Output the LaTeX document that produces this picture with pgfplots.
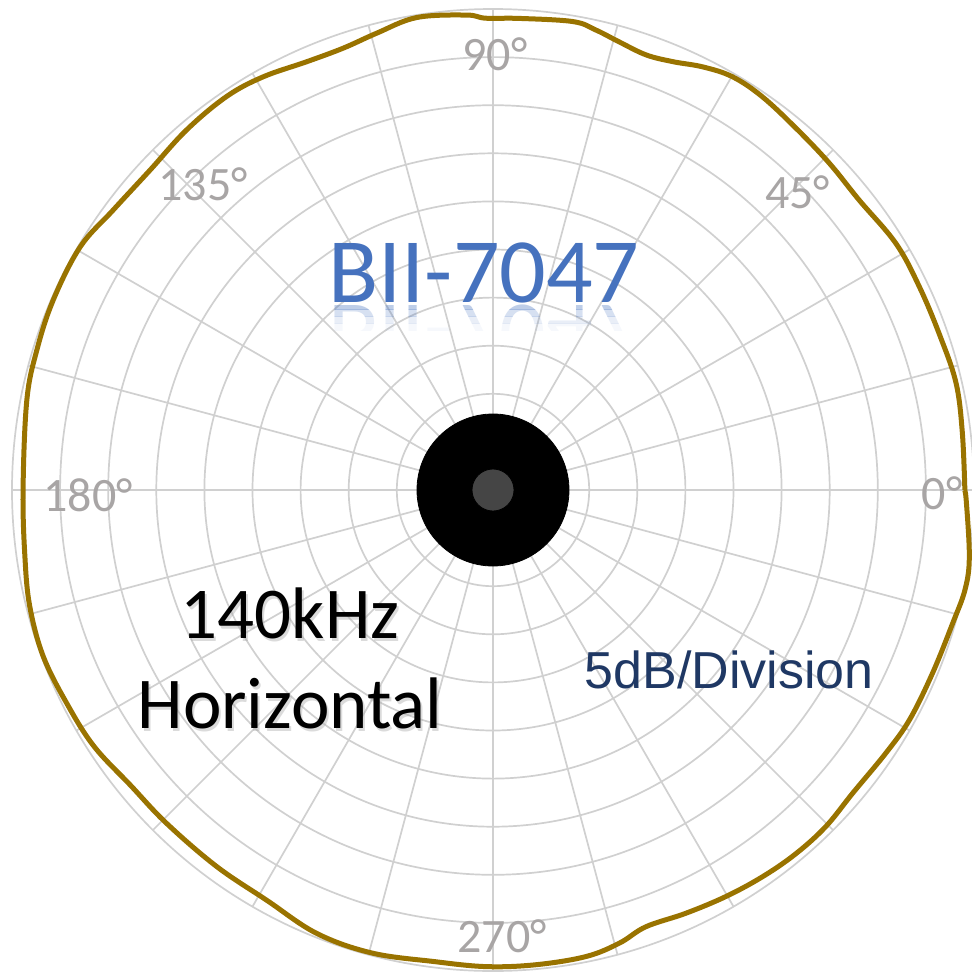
\documentclass[border=0pt]{standalone}
\usepackage{fontspec}
\setmainfont{Carlito}
\newfontfamily\arialf{Liberation Sans}
\usepackage{pgfplots}
\pgfplotsset{compat=1.18}
\usepgfplotslibrary{polar}
\definecolor{curve}{RGB}{153,115,0}
\definecolor{gridc}{RGB}{208,208,208}
\definecolor{lab}{RGB}{168,165,165}
\definecolor{bii}{RGB}{70,114,190}
\definecolor{navy}{RGB}{31,56,100}
\begin{document}
\begin{tikzpicture}[x=0.5pt,y=-0.5pt]
\begin{polaraxis}[
  at={(246.5pt,-245pt)}, anchor=origin,
  scale only axis, width=481pt, height=481pt,
  xmin=0, xmax=360, ymin=0, ymax=10,
  xtick={0,15,...,345}, ytick={1,2,...,9},
  xticklabels={}, yticklabels={},
  grid=major,
  major grid style={gridc, line width=0.85pt},
  axis line style={gridc, line width=0.85pt},
  tick style={draw=none},
  clip=false,
]
\addplot[curve, line width=2.5pt, smooth, tension=0.6, line join=round] coordinates {
(0,9.81) (7,9.83) (13,9.88) (19,9.83) (25.5,9.82) (31.5,9.82) (38.4,9.71)
(44.2,9.75) (50,9.81) (55.6,9.91) (59.9,9.93) (63.6,9.82) (67.2,9.66)
(70.6,9.59) (74.3,9.68) (77.4,9.80) (80.3,9.88) (86.8,9.82) (90.9,9.81)
(93.2,9.89) (99.2,9.95) (104.3,9.80) (108.7,9.70) (113.5,9.71) (119.1,9.83)
(124.1,9.88) (130.4,9.83) (137,9.75) (143.6,9.81) (149.5,9.96) (156.6,9.96)
(162.9,9.92) (169.1,9.87) (180,9.77) (188.1,9.83) (194.1,9.93) (200.3,9.97)
(206.6,9.91) (212.7,9.86) (219.2,9.72) (225.6,9.70) (233.7,9.71) (241.1,9.74)
(248.3,9.92) (255.3,9.95) (262.8,9.88) (269.2,9.91) (275.2,9.91) (281.3,9.89)
(285.6,9.78) (289.3,9.62) (294.5,9.67) (299.8,9.74) (304.9,9.80) (309.8,9.84)
(314.7,9.84) (319.9,9.78) (326.2,9.83) (331.1,9.89) (337.4,9.90) (343.8,9.95)
(348.1,10.03) (352,10.0) (358.8,9.84) (360,9.80)
};
\addplot[only marks, mark=*, mark size=38pt, mark options={fill=black, draw=none}] coordinates {(0,0)};
\addplot[only marks, mark=*, mark size=10.5pt, mark options={fill=black!73, draw=none}] coordinates {(0,0)};
\end{polaraxis}
% degree labels (image pixel coordinates)
\begin{scope}[lab, font=\fontsize{24}{28}\selectfont]
\node at (495,54) {90°};
\node at (942,493) {0°};
\node at (88,495) {180°};
\node at (502,936) {270°};
\node at (203,184) {135°};
\node at (797.5,192) {45°};
\end{scope}
% title with reflection
\node[anchor=base, text=bii, font=\fontsize{46}{50}\selectfont, inner sep=0pt] at (484,303) {BII-7047};
\foreach \a/\b/\o in {303/310/0.35, 310/317/0.22, 317/324/0.12, 324/331/0.05}{
  \begin{scope}
  \clip (300,\a) rectangle (680,\b);
  \node[anchor=base, text=bii, font=\fontsize{46}{50}\selectfont, inner sep=0pt, yscale=-1, opacity=\o] at (484,306) {BII-7047};
  \end{scope}
}
% labels
\node[anchor=base, text=black!35, opacity=0.4, font=\fontsize{36.5}{40}\selectfont, inner sep=0pt] at (292,641) {140kHz};
\node[anchor=base, text=black!35, opacity=0.4, font=\fontsize{36.5}{40}\selectfont, inner sep=0pt] at (292,731) {Horizontal};
\node[anchor=base, text=black, font=\fontsize{36.5}{40}\selectfont, inner sep=0pt] at (290,638) {140kHz};
\node[anchor=base, text=black, font=\fontsize{36.5}{40}\selectfont, inner sep=0pt] at (290,728) {Horizontal};
\node[anchor=base, text=navy, font=\arialf\fontsize{26}{30}\selectfont, inner sep=0pt] at (729,688) {5dB/Division};
\pgfresetboundingbox
\useasboundingbox (0,0) rectangle (972,972);
\end{tikzpicture}
\end{document}
